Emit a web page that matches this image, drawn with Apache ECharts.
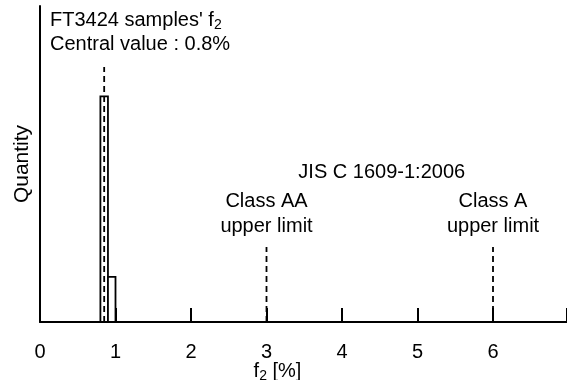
<!DOCTYPE html>
<html>
<head>
<meta charset="utf-8">
<script src="https://cdn.jsdelivr.net/npm/echarts@6/dist/echarts.min.js"></script>
<style>
  html, body { margin: 0; padding: 0; background: #fff; }
  #main { width: 567px; height: 380px; }
</style>
</head>
<body>
<div id="main"></div>
<script>
// histogram bins of f2 [%] : [from, to, quantity]
var binFrom = [0.8, 0.9];
var binTo = [0.9, 1.0];
var binCount = [5, 1];

var xTicks = [0, 1, 2, 3, 4, 5, 6];
var centralValue = 0.85;   // dashed line through the tall bar
var centralTop = 5.65;
var limitValues = [3, 6];  // JIS C 1609-1:2006 class AA / class A upper limit
var limitTop = 1.66;
var limitNames = ['Class AA\nupper limit', 'Class A\nupper limit'];

var myChart = echarts.init(document.getElementById('main'));
var FONT = 'Liberation Sans';

var binData = [];
for (var i = 0; i < binCount.length; i++) {
    binData.push([binFrom[i], binTo[i], binCount[i]]);
}

var dash = [6, 4];
var lineSeries = [];
lineSeries.push({
    type: 'line', symbol: 'none', silent: true,
    data: [[centralValue, 0], [centralValue, centralTop]],
    lineStyle: { color: '#000', width: 1.8, type: dash }
});
for (var j = 0; j < limitValues.length; j++) {
    lineSeries.push({
        type: 'line', symbol: 'none', silent: true,
        data: [[limitValues[j], 0], [limitValues[j], limitTop]],
        lineStyle: { color: '#000', width: 1.8, type: dash }
    });
}

// f with subscript 2
var subRich = {
    a: { fontFamily: FONT, fontSize: 20, color: '#000', lineHeight: 24, verticalAlign: 'middle' },
    s: { fontFamily: FONT, fontSize: 14, color: '#000', lineHeight: 14, verticalAlign: 'bottom' }
};

var option = {
    backgroundColor: '#fff',
    animation: false,
    grid: { left: 40, right: 0, top: 6, bottom: 58, outerBoundsMode: 'none', containLabel: false },
    xAxis: {
        type: 'value',
        min: 0,
        max: 6.98,
        interval: 1,
        splitLine: { show: false },
        axisLine: { lineStyle: { color: '#000', width: 2 } },
        axisTick: { inside: true, length: 14, lineStyle: { color: '#000', width: 2 } },
        axisLabel: {
            color: '#000', fontFamily: FONT, fontSize: 20, margin: 20,
            formatter: function (v) { return xTicks.indexOf(v) >= 0 ? String(v) : ''; }
        },
        name: '{a|f}{s|2}{a| [%]}',
        nameLocation: 'middle',
        nameGap: 37,
        nameMoveOverlap: false,
        nameTextStyle: { rich: subRich, padding: [0, 52, 0, 0] }
    },
    yAxis: {
        type: 'value',
        min: 0,
        max: 7,
        splitLine: { show: false },
        axisLine: { show: true, lineStyle: { color: '#000', width: 2 } },
        axisTick: { show: false },
        axisLabel: { show: false },
        name: 'Quantity',
        nameLocation: 'middle',
        nameGap: 7,
        nameTextStyle: { color: '#000', fontFamily: FONT, fontSize: 21 }
    },
    series: [{
        type: 'custom',
        silent: true,
        renderItem: function (params, api) {
            var p0 = api.coord([api.value(0), api.value(2)]);
            var p1 = api.coord([api.value(1), 0]);
            return {
                type: 'rect',
                shape: { x: p0[0], y: p0[1], width: p1[0] - p0[0], height: p1[1] - p0[1] },
                style: { fill: '#fff', stroke: '#000', lineWidth: 1.8 }
            };
        },
        encode: { x: [0, 1], y: 2 },
        data: binData,
        z: 1
    }].concat(lineSeries)
};
myChart.setOption(option);

// annotation texts anchored to data positions
var pAA = myChart.convertToPixel({ gridIndex: 0 }, [limitValues[0], 0]);
var pA = myChart.convertToPixel({ gridIndex: 0 }, [limitValues[1], 0]);
var txt = { fontFamily: FONT, fontSize: 20, fill: '#000' };
myChart.setOption({
    graphic: [
        {
            type: 'text', left: 50, top: 10,
            style: {
                text: '{a|FT3424 samples\' f}{s|2}\n{a|Central value : 0.8%}',
                fill: '#000',
                rich: subRich
            }
        },
        {
            type: 'text', x: (pAA[0] + pA[0]) / 2 + 2, y: 172,
            style: Object.assign({ text: 'JIS C 1609-1:2006', align: 'center', verticalAlign: 'middle' }, txt)
        },
        {
            type: 'text', x: pAA[0], y: 214,
            style: Object.assign({ text: limitNames[0], align: 'center', verticalAlign: 'middle', lineHeight: 25 }, txt)
        },
        {
            type: 'text', x: pA[0], y: 214,
            style: Object.assign({ text: limitNames[1], align: 'center', verticalAlign: 'middle', lineHeight: 25 }, txt)
        }
    ]
});
</script>
</body>
</html>
